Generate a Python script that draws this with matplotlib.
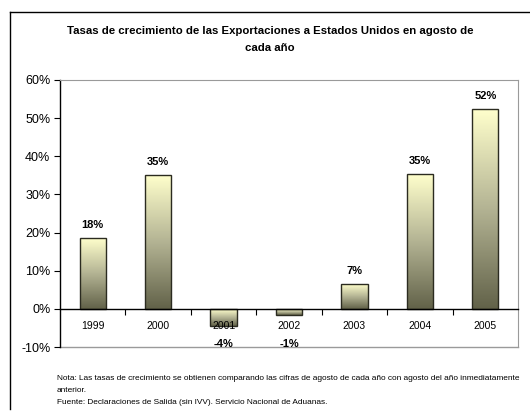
import matplotlib
matplotlib.use("Agg")
import matplotlib.pyplot as plt
import numpy as np
from matplotlib.colors import LinearSegmentedColormap
from matplotlib.lines import Line2D

plt.rcParams['font.family'] = ['Liberation Sans', 'DejaVu Sans']

years = ["1999", "2000", "2001", "2002", "2003", "2004", "2005"]
values = [18.6, 35.1, -4.4, -1.5, 6.5, 35.3, 52.3]
labels = ["18%", "35%", "-4%", "-1%", "7%", "35%", "52%"]
yticks = [-10, 0, 10, 20, 30, 40, 50, 60]

W, H = 530, 418
fig = plt.figure(figsize=(W / 100, H / 100), dpi=100)
ax = fig.add_axes([60 / W, 1 - 347 / H, (518 - 60) / W, (347 - 80) / H])
ax.set_xlim(-0.5, len(years) - 0.5)
ax.set_ylim(-10, 60)

cmap = LinearSegmentedColormap.from_list("g", ["#626249", "#b3b393", "#ffffcc"])
grad = np.linspace(0, 1, 256).reshape(-1, 1)
x = np.arange(len(years))
bars = ax.bar(x, values, width=0.4, color="none", edgecolor="#2b2b20", linewidth=1.0, zorder=1.5)
for b, v in zip(bars, values):
    x0 = b.get_x(); w = b.get_width()
    lo, hi = min(0, v), max(0, v)
    im = ax.imshow(grad, cmap=cmap, aspect="auto", origin="lower",
                   extent=[x0, x0 + w, lo, hi], zorder=1.2)
    im.set_clip_path(b)

for xi, v, lab in zip(x, values, labels):
    if v >= 0:
        ax.text(xi, v + 2.2, lab, ha="center", va="bottom", fontsize=8, fontweight="bold")
    else:
        ax.text(xi, -9.1, lab, ha="center", va="center", fontsize=8, fontweight="bold")

ax.set_yticks(yticks)
ax.set_yticklabels([f"{t}%" for t in yticks])
ax.tick_params(axis="y", direction="out", length=4, width=0.8, pad=3, labelsize=9)

ax.set_xticks(x)
ax.set_xticklabels(years)
ax.set_xticks(np.arange(0.5, len(years) - 0.5, 1), minor=True)
ax.tick_params(axis="x", which="major", length=0, pad=9, labelsize=7.5)
ax.tick_params(axis="x", which="minor", direction="out", length=4, width=0.8)

ax.spines["bottom"].set_position(("data", 0))
ax.spines["bottom"].set_linewidth(1.0)
ax.spines["left"].set_linewidth(1.0)
ax.spines["top"].set_color("#9a9a9a")
ax.spines["right"].set_color("#9a9a9a")
ax.axhline(-10, color="#9a9a9a", lw=1.0, zorder=1, clip_on=False)

fig.text(270 / W, 1 - 31 / H, "Tasas de crecimiento de las Exportaciones a Estados Unidos en agosto de",
         ha="center", va="center", fontsize=8.2, fontweight="bold")
fig.text(270 / W, 1 - 48 / H, "cada año", ha="center", va="center", fontsize=8.2, fontweight="bold")

fs = 5.95
fig.text(57 / W, 1 - 378 / H,
         "Nota: Las tasas de crecimiento se obtienen comparando las cifras de agosto de cada año con agosto del año inmediatamente",
         ha="left", va="center", fontsize=fs)
fig.text(57 / W, 1 - 390 / H, "anterior.", ha="left", va="center", fontsize=fs)
fig.text(57 / W, 1 - 402 / H, "Fuente: Declaraciones de Salida (sin IVV). Servicio Nacional de Aduanas.",
         ha="left", va="center", fontsize=fs)

fig.add_artist(Line2D([10 / W, 10 / W], [1 - 409 / H, 1 - 12 / H], color="black", lw=1.0,
                      transform=fig.transFigure))
fig.add_artist(Line2D([10 / W, 1.0], [1 - 12 / H, 1 - 12 / H], color="black", lw=1.0,
                      transform=fig.transFigure))

fig.savefig("out.png", dpi=100)
